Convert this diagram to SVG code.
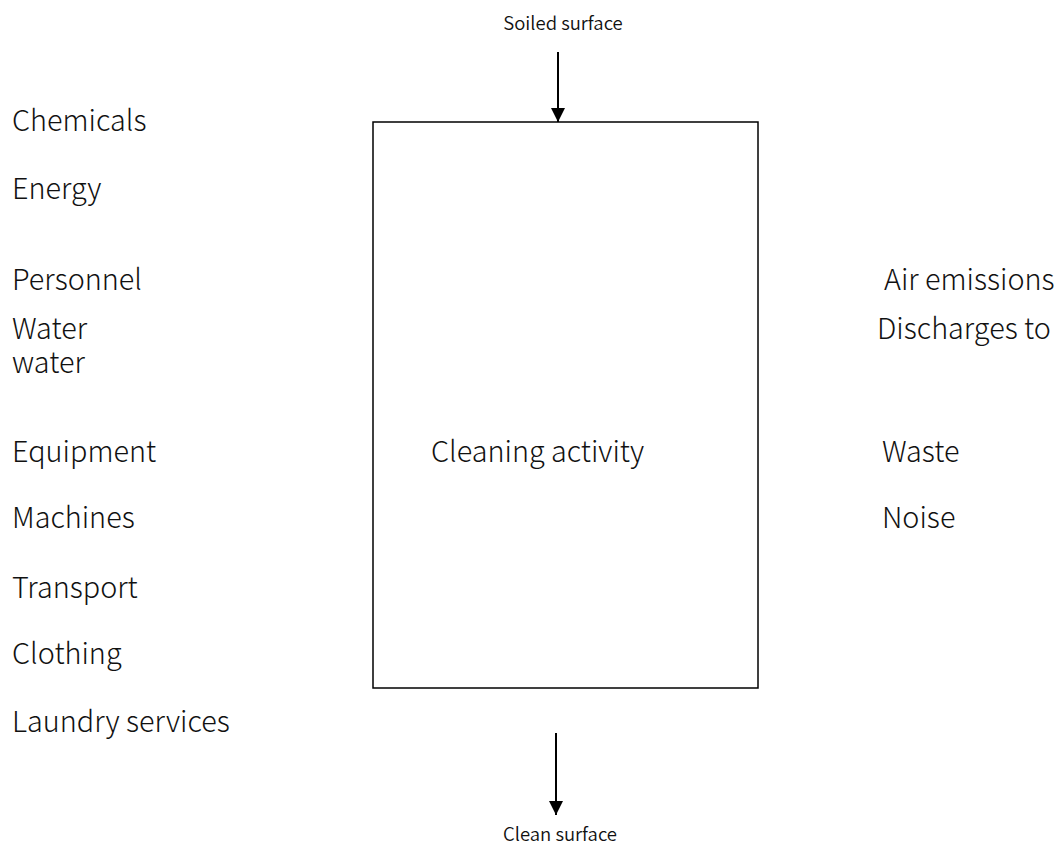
<svg xmlns="http://www.w3.org/2000/svg" width="1059" height="845" viewBox="0 0 1059 845">
<style>
.t{font-family:"Noto Sans CJK JP","Noto Sans",sans-serif;font-size:28.8px;font-weight:300;fill:#111}
.s{font-family:"Noto Sans CJK JP","Noto Sans",sans-serif;font-size:18.5px;font-weight:350;fill:#111}
.ln{stroke:#000;stroke-width:2;fill:none}
</style>
<defs>
<marker id="ah2" viewBox="0 0 10 10" markerWidth="14" markerHeight="14" refX="10" refY="5" orient="auto" markerUnits="userSpaceOnUse"><path d="M0,0 L10,5 L0,10 Z" fill="#000"/></marker>
</defs>
<rect width="1059" height="845" fill="#fff"/>
<g id="process">
<rect x="373" y="122" width="385" height="566" fill="none" stroke="#000" stroke-width="1.5"/>
<text class="t" x="431" y="462">Cleaning activity</text>
</g>
<g id="connectors">
<line class="ln" x1="558" y1="52" x2="558" y2="122" marker-end="url(#ah2)"/>
<line class="ln" x1="556" y1="733" x2="556" y2="815" marker-end="url(#ah2)"/>
</g>
<g id="soiled"><text class="s" x="563" y="30" text-anchor="middle">Soiled surface</text></g>
<g id="clean"><text class="s" x="560" y="841" text-anchor="middle">Clean surface</text></g>
<g id="inputs">
<text class="t" x="12" y="131">Chemicals</text>
<text class="t" x="12" y="199">Energy</text>
<text class="t" x="12" y="290">Personnel</text>
<text class="t" x="12" y="339">Water</text>
<text class="t" x="12" y="373">water</text>
<text class="t" x="12" y="462">Equipment</text>
<text class="t" x="12" y="528">Machines</text>
<text class="t" x="12" y="598">Transport</text>
<text class="t" x="12" y="664">Clothing</text>
<text class="t" x="12" y="732">Laundry services</text>
</g>
<g id="outputs">
<text class="t" x="884" y="290">Air emissions</text>
<text class="t" x="877" y="339">Discharges to</text>
<text class="t" x="882" y="462">Waste</text>
<text class="t" x="882" y="528">Noise</text>
</g>
</svg>
